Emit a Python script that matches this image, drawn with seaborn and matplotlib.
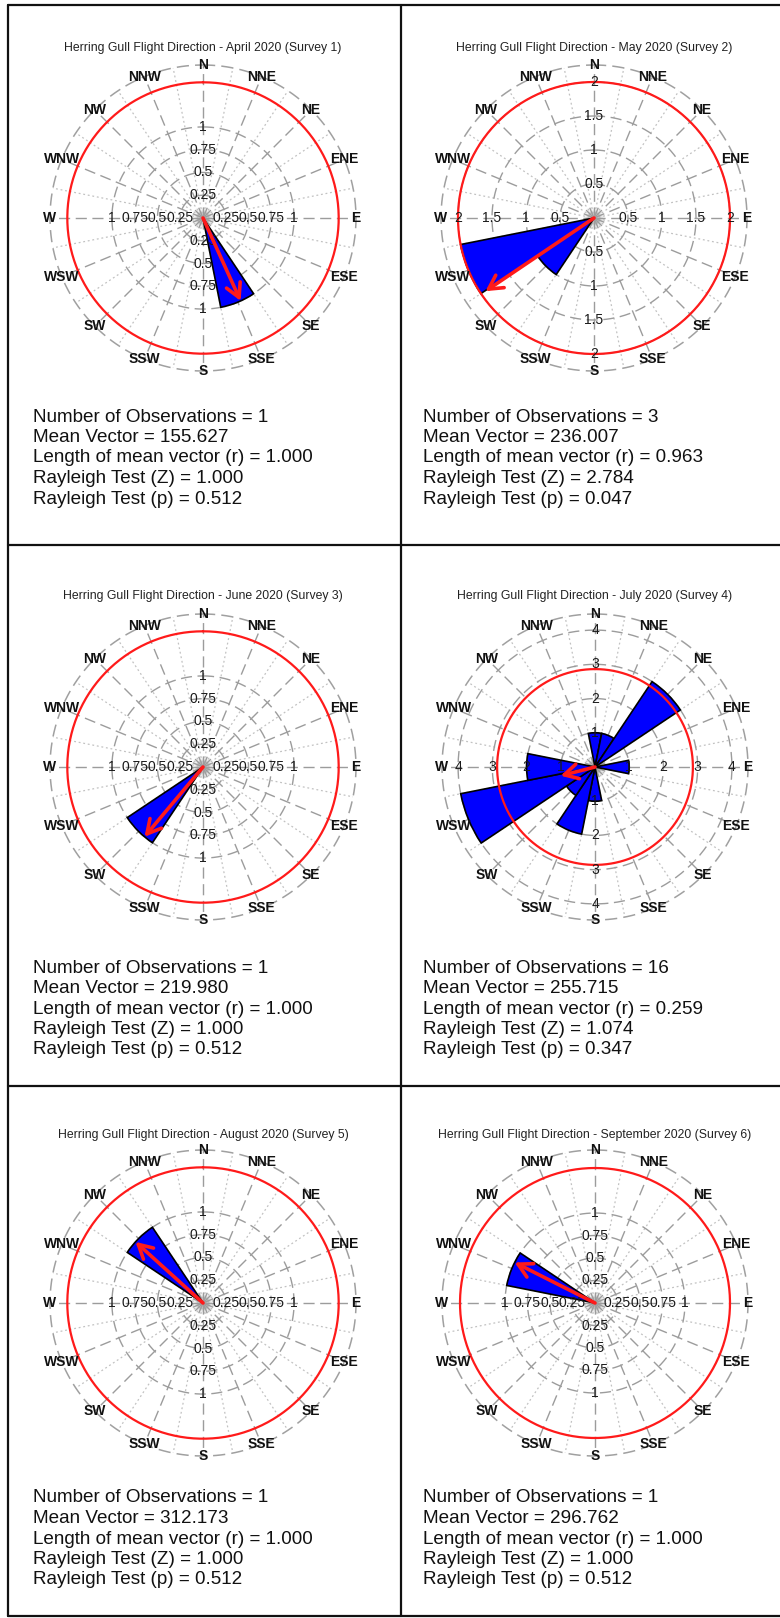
import numpy as np
import pandas as pd
import matplotlib
matplotlib.use("Agg")
import matplotlib.pyplot as plt
from matplotlib.lines import Line2D
import seaborn as sns

sns.set_theme(style="white")
plt.rcParams["font.family"] = ["Liberation Sans", "DejaVu Sans"]

# ---------------------------------------------------------------- data
compass = ["N", "NNE", "NE", "ENE", "E", "ESE", "SE", "SSE",
           "S", "SSW", "SW", "WSW", "W", "WNW", "NW", "NNW"]
sector_deg = [0, 22.5, 45, 67.5, 90, 112.5, 135, 157.5,
              180, 202.5, 225, 247.5, 270, 292.5, 315, 337.5]

months = ["April", "May", "June", "July", "August", "September"]
surveys = [1, 2, 3, 4, 5, 6]

# observations per 22.5-degree sector, in compass order N ... NNW
counts_apr = [0, 0, 0, 0, 0, 0, 0, 1, 0, 0, 0, 0, 0, 0, 0, 0]
counts_may = [0, 0, 0, 0, 0, 0, 0, 0, 0, 0, 1, 2, 0, 0, 0, 0]
counts_jun = [0, 0, 0, 0, 0, 0, 0, 0, 0, 0, 1, 0, 0, 0, 0, 0]
counts_jul = [1, 1, 3, 0, 1, 0, 0, 0, 1, 2, 1, 4, 2, 0, 0, 0]
counts_aug = [0, 0, 0, 0, 0, 0, 0, 0, 0, 0, 0, 0, 0, 0, 1, 0]
counts_sep = [0, 0, 0, 0, 0, 0, 0, 0, 0, 0, 0, 0, 0, 1, 0, 0]
counts = [counts_apr, counts_may, counts_jun, counts_jul, counts_aug, counts_sep]

n_obs = [1, 3, 1, 16, 1, 1]
mean_vector = [155.627, 236.007, 219.980, 255.715, 312.173, 296.762]
r_length = [1.000, 0.963, 1.000, 0.259, 1.000, 1.000]
rayleigh_z = [1.000, 2.784, 1.000, 1.074, 1.000, 1.000]
rayleigh_p = [0.512, 0.047, 0.512, 0.347, 0.512, 0.512]

ticks_small = [0.25, 0.5, 0.75, 1]
labels_small = ["0.25", "0.5", "0.75", "1"]
radial_ticks = [ticks_small, [0.5, 1, 1.5, 2], ticks_small,
                [1, 2, 3, 4], ticks_small, ticks_small]
radial_labels = [labels_small, ["0.5", "1", "1.5", "2"], labels_small,
                 ["1", "2", "3", "4"], labels_small, labels_small]
red_circle = [1.49, 2.0, 1.49, 2.86, 1.49, 1.5]

# ---------------------------------------------------------------- layout (pixels)
W, H = 780, 1618
R = 153                      # radius of the compass ring
centers = [(203, 218), (594, 218), (203, 767), (595, 767), (203, 1303), (595, 1303)]
axis_max = [1.68, 2.25, 1.68, 4.47, 1.68, 1.70]
title_y = [47.5, 47.5, 596, 596, 1135, 1135]
stats_x = [33, 423, 33, 423, 33, 423]
stats_y = [417, 417, 968, 968, 1498, 1498]
line_step = 20.5

fig = plt.figure(figsize=(W / 100, H / 100), dpi=100)
fig.patch.set_facecolor("white")


def fx(x):
    return x / W


def fy(y):
    return 1 - y / H


dash_col = "#9c9c9c"
dot_col = "#c2c2c2"
full = np.linspace(0, 2 * np.pi, 400)

for i in range(6):
    cx, cy = centers[i]
    rmax = axis_max[i]
    ax = fig.add_axes([fx(cx - R), fy(cy + R), 2 * R / W, 2 * R / H],
                      projection="polar")
    ax.set_theta_zero_location("N")
    ax.set_theta_direction(-1)

    df = pd.DataFrame({"bearing": np.deg2rad(sector_deg), "count": counts[i]})
    sns.barplot(data=df, x="bearing", y="count", native_scale=True, width=1.0,
                color="#0000ff", saturation=1, edgecolor="black", linewidth=1.2,
                errorbar=None, ax=ax, zorder=2)

    ax.set_xlim(0, 2 * np.pi)
    ax.set_ylim(0, rmax)
    ax.set_xlabel("")
    ax.set_ylabel("")
    ax.set_xticks([])
    ax.set_yticks([])
    ax.grid(False)
    ax.spines["polar"].set_visible(False)
    ax.set_facecolor("none")

    # radial lines: dashed on the 16 compass points, dotted in between
    for d in sector_deg:
        t = np.deg2rad(d)
        ax.plot([t, t], [0, rmax], color=dash_col, lw=1.0,
                dashes=(8, 4), zorder=0.6)
        t2 = np.deg2rad(d + 11.25)
        ax.plot([t2, t2], [0, rmax], color=dot_col, lw=0.9,
                dashes=(1.5, 2.2), zorder=0.5)

    # dashed rings at the tick radii and the outer compass ring
    for tv in radial_ticks[i]:
        ax.plot(full, np.full_like(full, tv), color=dash_col, lw=1.0,
                dashes=(8, 4), zorder=0.6)
    ax.plot(full, np.full_like(full, rmax), color="#a0a0a0", lw=1.1,
            dashes=(8, 4), zorder=0.6, clip_on=False)

    # red reference circle
    ax.plot(full, np.full_like(full, red_circle[i]), color="#ff1a1a", lw=1.6,
            zorder=3, clip_on=False)

    # soft grey hub
    for s, a in [(220, 0.12), (140, 0.18), (80, 0.25), (30, 0.35)]:
        ax.scatter([0], [0], s=s, color="#a0a0a0", alpha=a, lw=0, zorder=1.5)

    # radial tick labels on the four cardinal axes
    for d in (0, 90, 180, 270):
        for tv, tl in zip(radial_ticks[i], radial_labels[i]):
            ax.text(np.deg2rad(d), tv, tl, ha="center", va="center",
                    fontsize=10, color="#1a1a1a", zorder=4)

    # compass point names on the ring
    for d, name in zip(sector_deg, compass):
        ax.text(np.deg2rad(d), rmax, name, ha="center", va="center",
                fontsize=10, fontweight="bold", color="#111111",
                zorder=4, clip_on=False)

    # mean vector arrow, length r scaled by the largest sector count
    th = np.deg2rad(mean_vector[i])
    L = r_length[i] * max(counts[i])
    ax.annotate("", xy=(th, L), xytext=(th, 0),
                arrowprops=dict(arrowstyle="->,head_length=0.55,head_width=0.3",
                                color="#ff1a1a", lw=2.6, shrinkA=0, shrinkB=0,
                                mutation_scale=18),
                zorder=5)

    fig.text(fx(cx), fy(title_y[i]),
             f"Herring Gull Flight Direction - {months[i]} 2020 (Survey {surveys[i]})",
             ha="center", va="center", fontsize=8.8, color="#222222")

    lines = [f"Number of Observations = {n_obs[i]}",
             f"Mean Vector = {mean_vector[i]:.3f}",
             f"Length of mean vector (r) = {r_length[i]:.3f}",
             f"Rayleigh Test (Z) = {rayleigh_z[i]:.3f}",
             f"Rayleigh Test (p) = {rayleigh_p[i]:.3f}"]
    for k, ln in enumerate(lines):
        fig.text(fx(stats_x[i]), fy(stats_y[i] + k * line_step), ln,
                 ha="left", va="center", fontsize=13.6, color="#111111")

# table borders around the six cells
border = dict(color="#111111", lw=1.6, transform=fig.transFigure)
for x in (8, 401):
    fig.add_artist(Line2D([fx(x), fx(x)], [fy(5), fy(1616)], **border))
for y in (5, 545, 1086, 1616):
    fig.add_artist(Line2D([fx(8), fx(780)], [fy(y), fy(y)], **border))

fig.savefig("out.png", dpi=100, facecolor="white")
